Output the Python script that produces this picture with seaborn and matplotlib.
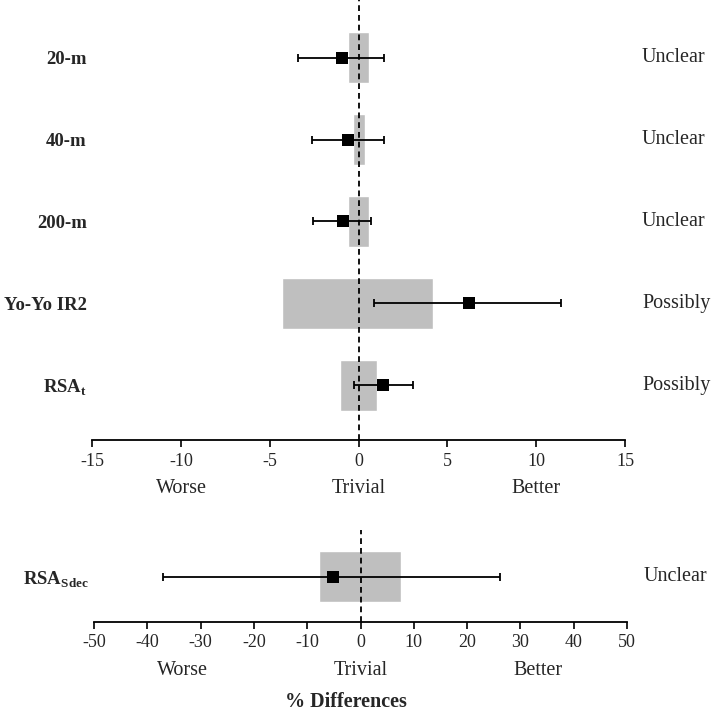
import numpy as np
import pandas as pd
import matplotlib
matplotlib.use("Agg")
import matplotlib.pyplot as plt
import seaborn as sns

# top panel: % differences with 90% CL, grey band = smallest worthwhile change
top_labels = ["20-m", "40-m", "200-m", "Yo-Yo IR2", r"RSA$_\mathbf{t}$"]
top_mean = [-0.96, -0.62, -0.88, 6.2, 1.37]
top_lo = [-3.40, -2.63, -2.56, 0.88, -0.26]
top_hi = [1.41, 1.41, 0.68, 11.4, 3.06]
top_swc_lo = [-0.62, -0.34, -0.62, -4.32, -1.07]
top_swc_hi = [0.60, 0.34, 0.60, 4.18, 1.01]
top_outcome = ["Unclear", "Unclear", "Unclear", "Possibly", "Possibly"]
top_ticks = [-15, -10, -5, 0, 5, 10, 15]

# bottom panel
bot_labels = [r"RSA$_\mathbf{Sdec}$"]
bot_mean = [-5.2]
bot_lo = [-37.0]
bot_hi = [26.2]
bot_swc_lo = [-7.8]
bot_swc_hi = [7.6]
bot_outcome = ["Unclear"]
bot_ticks = [-50, -40, -30, -20, -10, 0, 10, 20, 30, 40, 50]

zones = ["Worse", "Trivial", "Better"]

sns.set_style("white")
plt.rcParams['font.family'] = ['Liberation Serif', 'DejaVu Serif']
plt.rcParams['mathtext.fontset'] = 'custom'
plt.rcParams['mathtext.rm'] = 'Liberation Serif'
plt.rcParams['mathtext.bf'] = 'Liberation Serif:bold'

GREY = "#bfbfbf"
W, H = 714, 716


def draw_panel(ax, labels, mean, lo, hi, swc_lo, swc_hi, outcome, ticks):
    df = pd.DataFrame({
        'pos': np.arange(len(labels)),
        'mean': mean, 'lo': lo, 'hi': hi,
        'swc_lo': swc_lo, 'swc_hi': swc_hi,
    })
    ax.barh(df['pos'], df['swc_hi'] - df['swc_lo'], left=df['swc_lo'],
            height=0.62, color=GREY, zorder=1)
    ax.axvline(0, color='black', ls=(0, (3.2, 2.2)), lw=1.3, zorder=2)
    ax.errorbar(df['mean'], df['pos'],
                xerr=[df['mean'] - df['lo'], df['hi'] - df['mean']],
                fmt='none', ecolor='black', elinewidth=1.3, capsize=3,
                capthick=1.3, zorder=3)
    sns.scatterplot(data=df, x='mean', y='pos', marker='s', s=72,
                    color='black', edgecolor='black', linewidth=0,
                    zorder=4, ax=ax, legend=False)

    ax.set_xlim(ticks[0], ticks[-1])
    ax.set_xticks(ticks)
    ax.set_xticklabels([str(t) for t in ticks], fontsize=13)
    ax.set_yticks(df['pos'])
    ax.set_yticklabels(labels, fontsize=13.5, fontweight='bold')
    ax.tick_params(axis='y', left=False, length=0, pad=4)
    ax.tick_params(axis='x', bottom=True, direction='out', length=5,
                   width=1.2, color='black', pad=4)
    ax.set_xlabel('')
    ax.set_ylabel('')
    for s in ['top', 'right', 'left']:
        ax.spines[s].set_visible(False)
    ax.spines['bottom'].set_linewidth(1.3)
    ax.spines['bottom'].set_color('black')

    for p, txt in zip(df['pos'], outcome):
        ax.text(1.032, p, txt, transform=ax.get_yaxis_transform(),
                ha='left', va='center', fontsize=14.5)

    step = (ticks[-1] - ticks[0]) / 3
    for i, z in enumerate(zones):
        ax.annotate(z, xy=(ticks[0] + step * (i + 0.5), 0),
                    xycoords=('data', 'axes fraction'),
                    xytext=(0, -35), textcoords='offset points',
                    ha='center', va='center', fontsize=14.5)


fig = plt.figure(figsize=(W / 100, H / 100), dpi=100)

# top axes: x 92..625 px, y 0..440 px from top
ax1 = fig.add_axes([92.3 / W, (H - 440) / H, (625 - 92.3) / W, 440 / H])
draw_panel(ax1, top_labels, top_mean, top_lo, top_hi, top_swc_lo,
           top_swc_hi, top_outcome, top_ticks)
ax1.set_ylim(4.67, -0.705)

# bottom axes: x 94..627 px, y 530..622 px from top
ax2 = fig.add_axes([94 / W, (H - 621.7) / H, (627 - 94) / W, 91.7 / H])
draw_panel(ax2, bot_labels, bot_mean, bot_lo, bot_hi, bot_swc_lo,
           bot_swc_hi, bot_outcome, bot_ticks)
ax2.set_ylim(0.55, -0.571)
ax2.set_xlabel('% Differences', fontsize=14.5, fontweight='bold')
ax2.xaxis.set_label_coords((346 - 94) / 533, -0.77)

fig.savefig('out.png', dpi=100)
